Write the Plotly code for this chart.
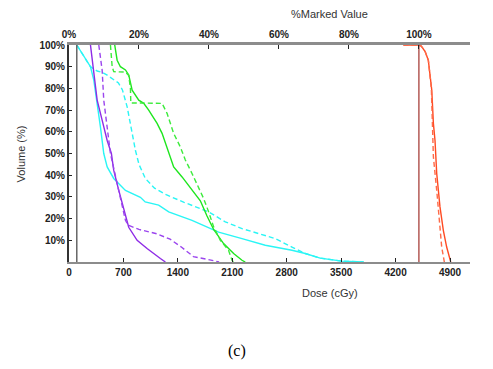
import plotly.graph_objects as go

# ---- data (dose in cGy, volume in %) ----
cyan_solid_dose = [100, 276, 318, 370, 405, 447, 491, 575, 726, 918, 980, 1153, 1282, 1582, 1924, 2225, 2524, 2867, 3038, 3230, 3509, 3790]
cyan_solid_vol = [100, 90, 84, 71.5, 62, 50, 43.8, 38.5, 33, 29.8, 27.7, 26.2, 23.1, 19.2, 13.8, 10.8, 7.7, 5.4, 3.9, 1.8, 0.4, 0]

cyan_dash_dose = [100, 276, 340, 362, 420, 491, 636, 687, 748, 790, 828, 854, 900, 982, 1100, 1250, 1480, 1796, 2010, 2225, 2438, 2652, 2867, 3038, 3230, 3509, 3790]
cyan_dash_vol = [100, 90, 88.5, 88, 87.5, 86.1, 82.5, 79.3, 71.5, 63.1, 54.8, 51.5, 45, 38.5, 34, 31, 27.5, 23.1, 18.5, 15.4, 13.1, 10.8, 6.9, 3.9, 1.8, 0.4, 0]

purple_solid_dose = [276, 319, 362, 426, 491, 545, 575, 640, 704, 768, 876, 1004, 1175, 1240]
purple_solid_vol = [100, 87, 74.6, 65.4, 56, 50, 42.3, 33, 23.9, 16, 10, 6.2, 1.6, 0]

purple_dash_dose = [383, 426, 447, 491, 533, 619, 683, 726, 760, 900, 1130, 1300, 1445, 1600, 1860, 1930]
purple_dash_vol = [100, 88.5, 74.6, 62.3, 50, 36.2, 26, 19.2, 17, 15, 13, 10.5, 6.9, 2.5, 0.6, 0]

green_solid_dose = [588, 619, 661, 726, 768, 812, 897, 961, 1025, 1133, 1197, 1261, 1346, 1454, 1560, 1689, 1775, 1860, 1988, 2117, 2225, 2267]
green_solid_vol = [100, 93, 90, 88.5, 86.2, 79.2, 74.6, 73.1, 70, 63.9, 59.3, 53, 43.8, 39.2, 34.3, 28.2, 21.2, 15, 8.5, 3.9, 0.8, 0]

green_dash_dose = [533, 555, 575, 640, 726, 768, 790, 795, 1197, 1261, 1304, 1346, 1432, 1496, 1582, 1667, 1731, 1796, 1860, 1946, 2052, 2096, 2113]
green_dash_vol = [100, 90, 87.7, 87.7, 87.5, 86, 80, 73.3, 73.1, 68.5, 63.9, 59.3, 53, 47, 40.8, 34.6, 29.3, 23.1, 16.2, 10, 5.4, 0.8, 0]

orange_solid_dose = [4300, 4500, 4530, 4580, 4621, 4665, 4686, 4707, 4729, 4771, 4814, 4857, 4909]
orange_solid_vol = [100, 100, 99.5, 97, 93, 79.3, 63.9, 56, 40.8, 25.4, 14.6, 6.9, 0]

orange_dash_dose = [4300, 4500, 4530, 4580, 4621, 4660, 4675, 4686, 4729, 4762, 4793, 4827]
orange_dash_vol = [100, 100, 99.5, 97, 93, 80, 62, 48.5, 33, 17.7, 6.9, 0]

marked_dose = 4500
ref_dose = 100

x_ticks = [0, 700, 1400, 2100, 2800, 3500, 4200, 4900]
y_ticks = [10, 20, 30, 40, 50, 60, 70, 80, 90, 100]
top_ticks = [0, 20, 40, 60, 80, 100]

x_max = 5157

fig = go.Figure()

series = [
    (cyan_solid_dose, cyan_solid_vol, "#2AF5F5", "solid"),
    (cyan_dash_dose, cyan_dash_vol, "#2AF5F5", "5px,3px"),
    (purple_solid_dose, purple_solid_vol, "#8E2BE6", "solid"),
    (purple_dash_dose, purple_dash_vol, "#9B45EE", "5px,3px"),
    (green_solid_dose, green_solid_vol, "#1EE61E", "solid"),
    (green_dash_dose, green_dash_vol, "#3CEB3C", "5px,3px"),
    (orange_solid_dose, orange_solid_vol, "#FF4A22", "solid"),
    (orange_dash_dose, orange_dash_vol, "#FF6A48", "5px,3px"),
]
for xs, ys, col, dash in series:
    fig.add_trace(go.Scatter(x=xs, y=ys, mode="lines", showlegend=False,
                             line=dict(color=col, width=1.4, dash=dash)))

# marker vertical lines
fig.add_trace(go.Scatter(x=[marked_dose, marked_dose], y=[0, 100], mode="lines",
                         showlegend=False, line=dict(color="#A0302A", width=1.2)))
fig.add_trace(go.Scatter(x=[ref_dose, ref_dose], y=[0, 100], mode="lines",
                         showlegend=False, line=dict(color="#666666", width=1.5)))

# dummy trace for top axis
fig.add_trace(go.Scatter(x=[0], y=[None], xaxis="x2", mode="lines", showlegend=False))

tick_font = dict(family="Liberation Sans, Arial", size=10, color="#222222", weight="bold")
label_font = dict(family="Liberation Sans, Arial", size=11, color="#333333")

# the page body has an 8px margin, so the figure is sized to compensate
fig.update_layout(
    width=485, height=361,
    margin=dict(l=60.5, r=23, t=37, b=107),
    paper_bgcolor="white", plot_bgcolor="white",
    xaxis=dict(range=[0, x_max], tickvals=x_ticks, ticktext=[str(v) for v in x_ticks],
               automargin=False,
               showgrid=False, zeroline=False, showline=True, linecolor="#8C8C8C", linewidth=2,
               ticks="inside", ticklen=4, tickcolor="#222222", tickwidth=1,
               tickfont=tick_font),
    xaxis2=dict(overlaying="x", side="top", range=[0, x_max / marked_dose * 100],
                automargin=False,
                tickvals=top_ticks, ticktext=[f"{v}%" for v in top_ticks],
                showgrid=False, zeroline=False, showline=True, linecolor="#8C8C8C", linewidth=2.5,
                ticks="inside", ticklen=4, tickcolor="#222222", tickwidth=1,
                tickfont=tick_font),
    yaxis=dict(range=[0, 100], tickvals=y_ticks, ticktext=[f"{v}%" for v in y_ticks],
               automargin=False,
               showgrid=False, zeroline=False, showline=True, linecolor="#333333", linewidth=2,
               ticks="inside", ticklen=3, tickcolor="#222222", tickwidth=1,
               tickfont=tick_font),
    annotations=[
        dict(text="Volume (%)", xref="paper", yref="paper", x=-0.12, y=0.5, textangle=-90,
             xanchor="center", yanchor="middle", showarrow=False, font=label_font),
        dict(text="Dose (cGy)", xref="paper", yref="paper", x=0.65, y=-0.145,
             xanchor="center", yanchor="middle", showarrow=False, font=label_font),
        dict(text="%Marked Value", xref="paper", yref="paper", x=0.65, y=1.143,
             xanchor="center", yanchor="middle", showarrow=False, font=label_font),
        dict(text="(c)", xref="paper", yref="paper", x=0.42, y=-0.41,
             xanchor="center", yanchor="middle", showarrow=False,
             font=dict(family="Liberation Serif, Times New Roman", size=16, color="#000000")),
    ],
)

fig.write_html("out.html")
